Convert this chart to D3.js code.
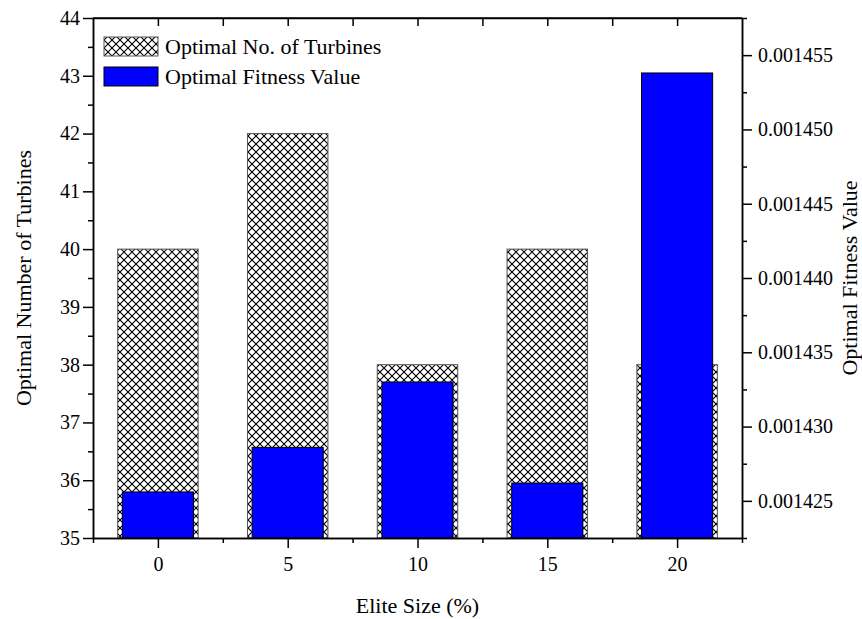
<!DOCTYPE html>
<html>
<head>
<meta charset="utf-8">
<script src="https://cdn.jsdelivr.net/npm/d3@7"></script>
<style>
  body { margin: 0; background: #fff; }
  svg text { font-family: "Liberation Serif", "Times New Roman", serif; }
</style>
</head>
<body>
<svg class="chart" width="862" height="619"></svg>
<script>
// data
var eliteSizes = [0, 5, 10, 15, 20];
var turbines = [40, 42, 38, 40, 38];
var fitness = [0.0014256, 0.0014286, 0.0014330, 0.0014262, 0.0014538];

var leftTicks = [35, 36, 37, 38, 39, 40, 41, 42, 43, 44];
var rightTicks = [0.001425, 0.001430, 0.001435, 0.001440, 0.001445, 0.001450, 0.001455];
var xTicks = [0, 5, 10, 15, 20];

var legendItems = ['Optimal No. of Turbines', 'Optimal Fitness Value'];

document.addEventListener("DOMContentLoaded", function() {

    var svg = d3.select('svg.chart');

    var pLeft = 93, pRight = 742, pTop = 18, pBottom = 538;

    var x = d3.scaleLinear().domain([-2.5, 22.5]).range([pLeft, pRight]);
    var yL = d3.scaleLinear().domain([35, 44]).range([pBottom, pTop]);
    var yR = d3.scaleLinear().domain([0.0014225, 0.0014575]).range([pBottom, pTop]);

    // crosshatch pattern
    var pat = svg.append('defs').append('pattern')
        .attr('id', 'hatch')
        .attr('patternUnits', 'userSpaceOnUse')
        .attr('width', 8).attr('height', 8);
    pat.append('rect').attr('width', 8).attr('height', 8).attr('fill', '#fff');
    pat.append('path')
        .attr('d', 'M0,0 L8,8 M8,0 L0,8')
        .attr('stroke', '#000')
        .attr('stroke-width', 1.1);

    var hatchHalf = 1.55, blueHalf = 1.37;

    // hatched bars (turbines)
    svg.append('g').selectAll('rect')
        .data(eliteSizes)
        .enter().append('rect')
        .attr('x', function(d) { return x(d - hatchHalf); })
        .attr('width', function(d) { return x(d + hatchHalf) - x(d - hatchHalf); })
        .attr('y', function(d, i) { return yL(turbines[i]); })
        .attr('height', function(d, i) { return pBottom - yL(turbines[i]); })
        .attr('fill', 'url(#hatch)')
        .attr('stroke', '#555')
        .attr('stroke-width', 1);

    // blue bars (fitness)
    svg.append('g').selectAll('rect')
        .data(eliteSizes)
        .enter().append('rect')
        .attr('x', function(d) { return x(d - blueHalf); })
        .attr('width', function(d) { return x(d + blueHalf) - x(d - blueHalf); })
        .attr('y', function(d, i) { return yR(fitness[i]); })
        .attr('height', function(d, i) { return pBottom - yR(fitness[i]); })
        .attr('fill', '#0000ff')
        .attr('stroke', '#000')
        .attr('stroke-width', 1);

    // top frame line
    svg.append('line')
        .attr('x1', pLeft).attr('x2', pRight).attr('y1', pTop).attr('y2', pTop)
        .attr('stroke', '#000').attr('stroke-width', 1.5);

    function styleAxis(g) {
        g.selectAll('path').attr('stroke', '#000').attr('stroke-width', 1.5);
        g.selectAll('line').attr('stroke', '#000').attr('stroke-width', 1.5);
        g.selectAll('text').attr('font-size', 20).attr('fill', '#000')
            .style('font-family', '"Liberation Serif", "Times New Roman", serif');
    }

    // minor ticks sit half way between majors
    function halves(arr) {
        var out = [];
        for (var i = 0; i < arr.length - 1; i++) out.push((arr[i] + arr[i + 1]) / 2);
        return out;
    }
    var xMinor = [-2.5].concat(halves(xTicks)).concat([22.5]);
    var yLMinor = halves(leftTicks);
    var yRMinor = [0.0014225].concat(halves(rightTicks)).concat([0.0014575]);

    // left axis
    svg.append('g').attr('transform', 'translate(' + pLeft + ',0)')
        .call(d3.axisLeft(yL).tickValues(yLMinor).tickSize(5).tickFormat('').tickSizeOuter(0))
        .call(styleAxis);
    svg.append('g').attr('transform', 'translate(' + pLeft + ',0)')
        .call(d3.axisLeft(yL).tickValues(leftTicks).tickSize(10).tickPadding(3).tickSizeOuter(0))
        .call(styleAxis);

    // right axis
    svg.append('g').attr('transform', 'translate(' + pRight + ',0)')
        .call(d3.axisRight(yR).tickValues(yRMinor).tickSize(5).tickFormat('').tickSizeOuter(0))
        .call(styleAxis);
    svg.append('g').attr('transform', 'translate(' + pRight + ',0)')
        .call(d3.axisRight(yR).tickValues(rightTicks).tickSize(10).tickPadding(6)
            .tickFormat(d3.format('.6f')).tickSizeOuter(0))
        .call(styleAxis);

    // bottom axis
    svg.append('g').attr('transform', 'translate(0,' + pBottom + ')')
        .call(d3.axisBottom(x).tickValues(xMinor).tickSize(5).tickFormat('').tickSizeOuter(0))
        .call(styleAxis);
    svg.append('g').attr('transform', 'translate(0,' + pBottom + ')')
        .call(d3.axisBottom(x).tickValues(xTicks).tickSize(10).tickPadding(9).tickSizeOuter(0))
        .call(styleAxis);

    // top ticks, pointing inward
    svg.append('g').attr('transform', 'translate(0,' + pTop + ')')
        .call(d3.axisTop(x).tickValues(xTicks.concat(halves(xTicks))).tickSize(-8).tickFormat('').tickSizeOuter(0))
        .call(styleAxis);

    // axis titles
    svg.append('text')
        .attr('transform', 'translate(31,' + ((pTop + pBottom) / 2) + ') rotate(-90)')
        .attr('text-anchor', 'middle')
        .attr('font-size', 22)
        .text('Optimal Number of Turbines');
    svg.append('text')
        .attr('transform', 'translate(857,' + ((pTop + pBottom) / 2) + ') rotate(-90)')
        .attr('text-anchor', 'middle')
        .attr('font-size', 22)
        .text('Optimal Fitness Value');
    svg.append('text')
        .attr('x', (pLeft + pRight) / 2)
        .attr('y', 613)
        .attr('text-anchor', 'middle')
        .attr('font-size', 22)
        .text('Elite Size (%)');

    // legend
    var legendFills = ['url(#hatch)', '#0000ff'];
    var legendStrokes = ['#555', '#000'];
    var lg = svg.append('g');
    lg.selectAll('rect')
        .data(legendItems)
        .enter().append('rect')
        .attr('x', 104)
        .attr('y', function(d, i) { return 37 + i * 30; })
        .attr('width', 54)
        .attr('height', 19)
        .attr('fill', function(d, i) { return legendFills[i]; })
        .attr('stroke', function(d, i) { return legendStrokes[i]; })
        .attr('stroke-width', 1);
    lg.selectAll('text')
        .data(legendItems)
        .enter().append('text')
        .attr('x', 165)
        .attr('y', function(d, i) { return 54 + i * 30; })
        .attr('font-size', 22)
        .text(function(d) { return d; });
});
</script>
</body>
</html>
